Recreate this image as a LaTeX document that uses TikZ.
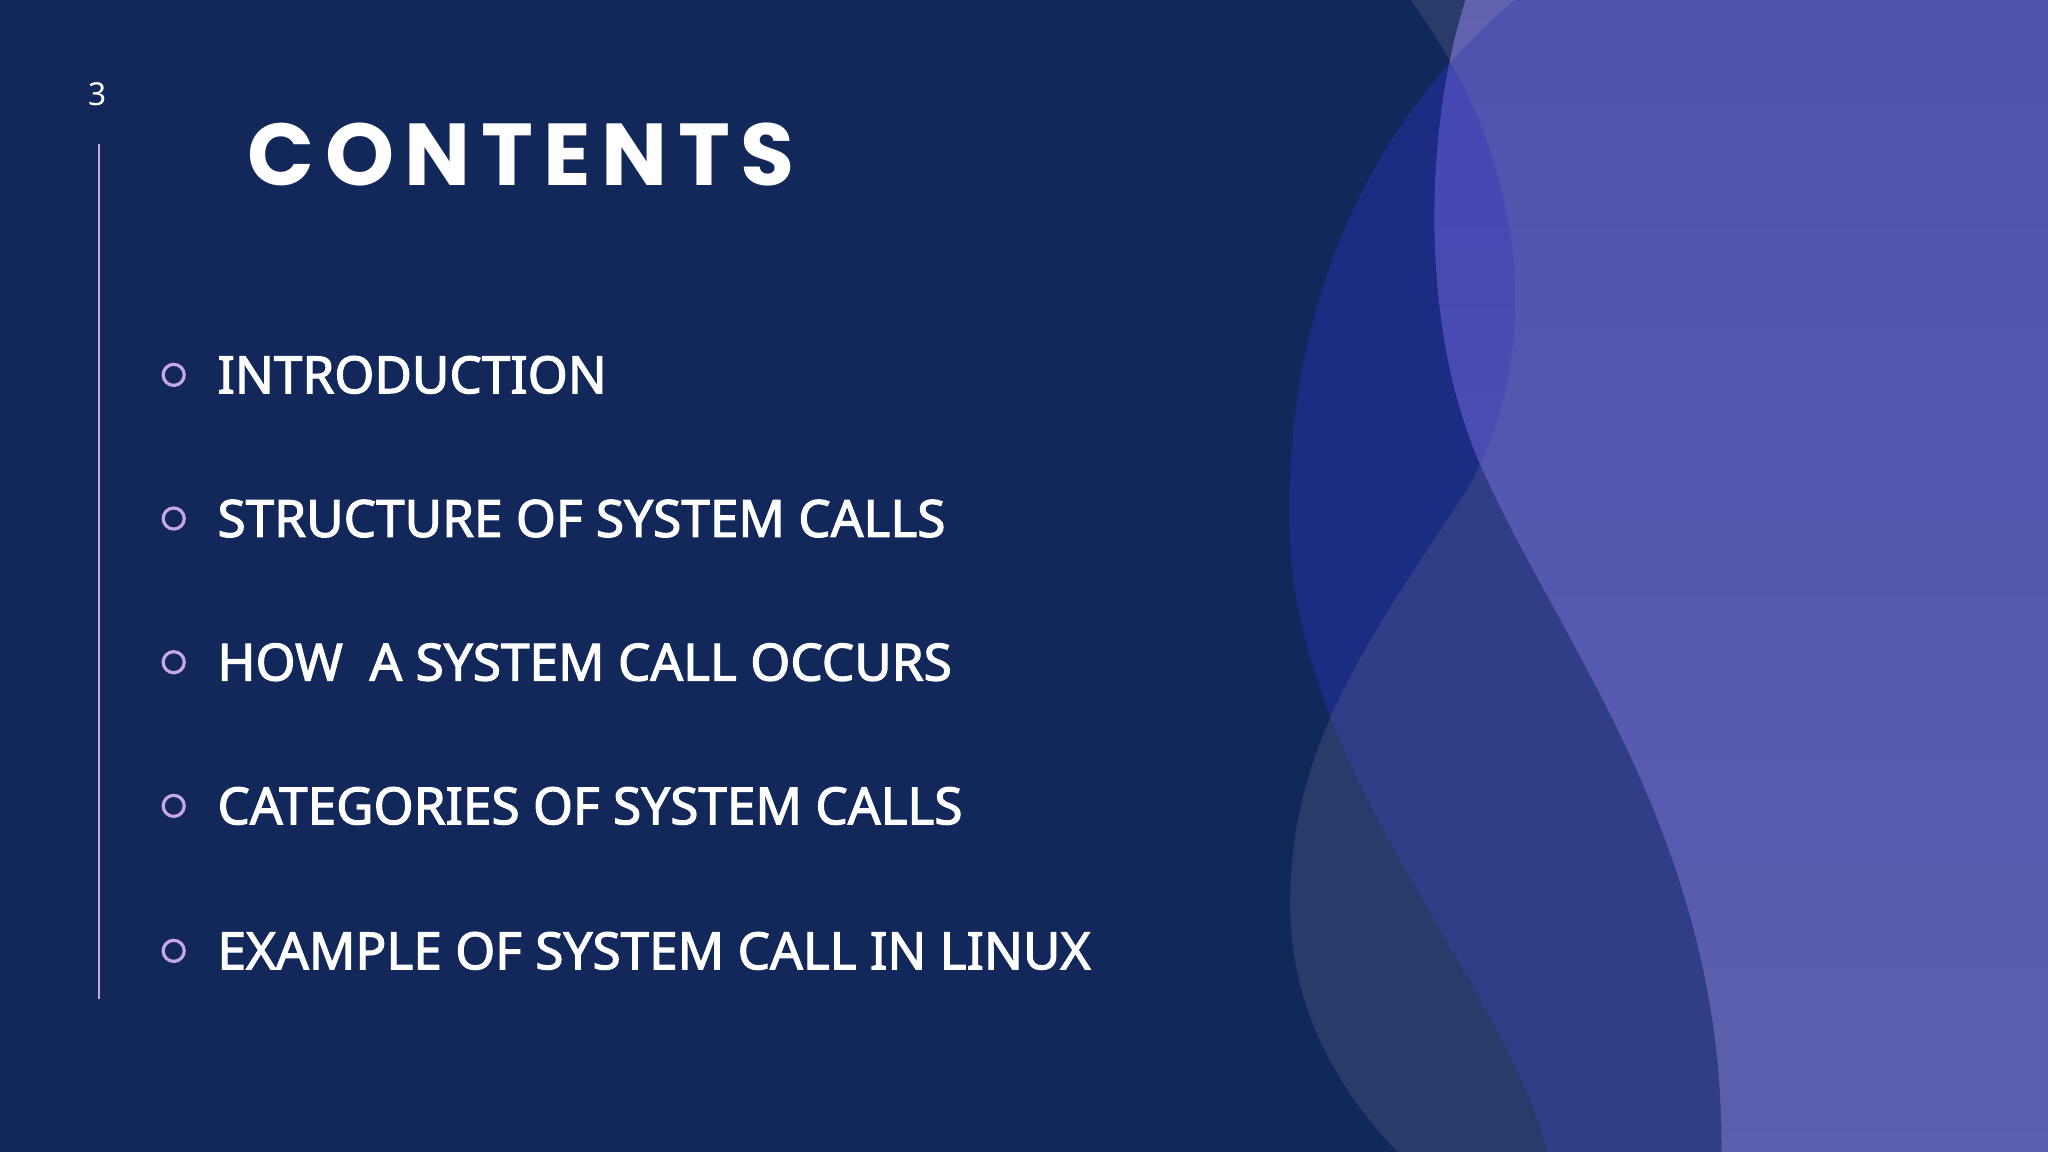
\documentclass[tikz,border=0pt]{standalone}
\usepackage{fontspec}
\setmainfont{Noto Sans}
\newfontfamily\itemfont[FakeBold=2.2]{Noto Sans}
\newfontfamily\titlefont[LetterSpace=12]{Poppins}
\usetikzlibrary{shadings}
\definecolor{bg}{HTML}{13285A}
\definecolor{lilac}{HTML}{C9A6E6}
\definecolor{wtop}{RGB}{92,88,178}
\definecolor{wbot}{RGB}{122,116,176}
\definecolor{wblue}{RGB}{40,50,180}
\definecolor{wgrey}{RGB}{120,130,160}
\tikzset{item/.style={anchor=west,text=white,font=\itemfont\fontsize{14.6}{18}\selectfont,inner sep=0pt},
 bul/.style={draw=lilac,line width=0.9pt,circle,minimum size=6pt,inner sep=0pt}}
\begin{document}
\begin{tikzpicture}[x=0.013061cm,y=-0.013061cm]
\fill[bg] (0,0) rectangle (1568,882);
\useasboundingbox (0,0) rectangle (1568,882);
\shade[top color=wtop,bottom color=wbot]
 (1122,0) .. controls (1090,100) and (1085,260) .. (1140,370)
 .. controls (1200,500) and (1320,650) .. (1318,882) -- (1568,882) -- (1568,0) -- cycle;
\fill[wblue,opacity=0.45]
 (1160,0) .. controls (1040,100) and (980,250) .. (988,420)
 .. controls (1000,600) and (1150,750) .. (1185,882) -- (1568,882) -- (1568,0) -- cycle;
\fill[wgrey,opacity=0.22]
 (1080,0) .. controls (1190,150) and (1170,300) .. (1120,380)
 .. controls (1040,500) and (985,580) .. (988,700)
 .. controls (990,780) and (1030,840) .. (1070,882) -- (1568,882) -- (1568,0) -- cycle;
\node[text=white,font=\fontsize{9}{11}\selectfont] (num) at (75,72) {3};
\draw[lilac,line width=0.6pt] (76,110) -- (76,765);
\node[anchor=west,text=white,inner sep=0pt,font=\titlefont\fontsize{25}{30}\selectfont\bfseries] (title) at (189,118) {CONTENTS};
\foreach \y/\t [count=\i] in {287/INTRODUCTION,397/STRUCTURE OF SYSTEM CALLS,507/HOW\ \ A SYSTEM CALL OCCURS,617/CATEGORIES OF SYSTEM CALLS,728/EXAMPLE OF SYSTEM CALL IN LINUX}{
 \node[bul] (b\i) at (133,\y) {};
 \node[item] (t\i) at (166,\y) {\t};
}
\end{tikzpicture}
\end{document}
